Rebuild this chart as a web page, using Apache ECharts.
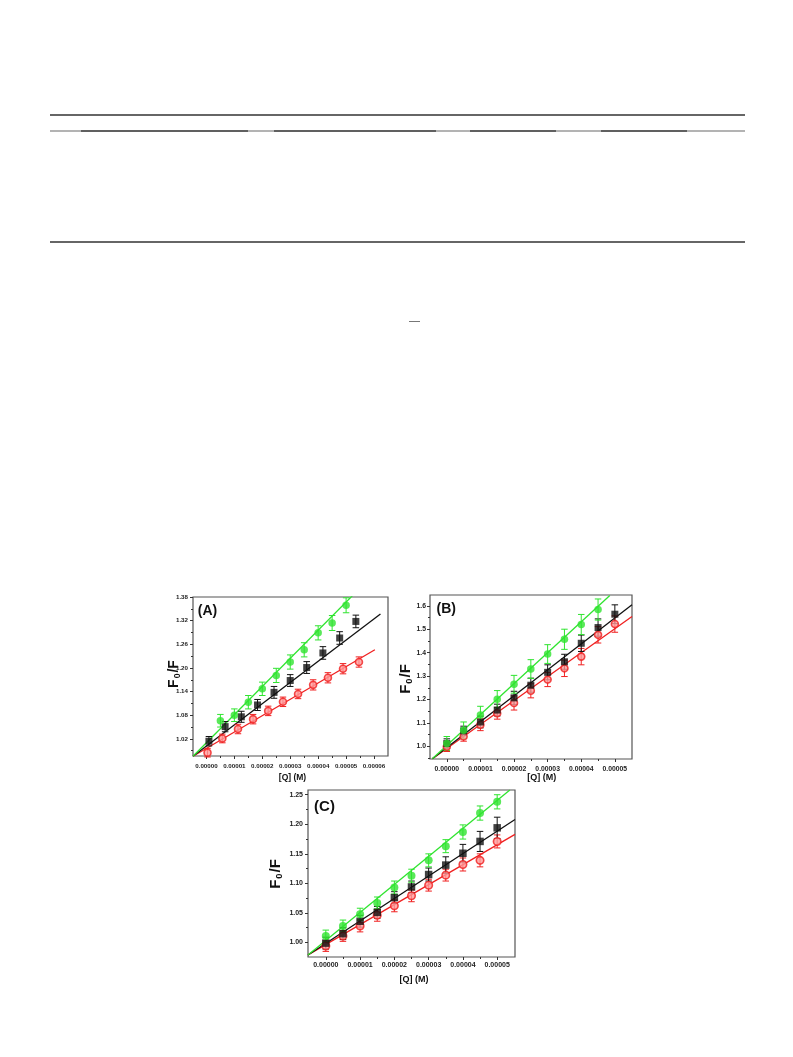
<!DOCTYPE html>
<html><head><meta charset="utf-8">
<script src="https://cdn.jsdelivr.net/npm/echarts@6/dist/echarts.min.js"></script>
<style>html,body{margin:0;padding:0;background:#fff}#c{width:793px;height:1057px}</style>
</head><body><div id="c"></div><script>
// ---- Data (x in units of 1e-5 M) ----
// Panel A
const A_green_x = [0.5, 1.0, 1.5, 2.0, 2.5, 3.0, 3.5, 4.0, 4.5, 5.0];
const A_green_y = [1.066, 1.080, 1.113, 1.147, 1.181, 1.215, 1.246, 1.289, 1.314, 1.359];
const A_green_e = [0.016, 0.016, 0.017, 0.017, 0.018, 0.018, 0.018, 0.018, 0.019, 0.019];
const A_black_x = [0.09, 0.67, 1.25, 1.83, 2.42, 3.0, 3.59, 4.17, 4.77, 5.35];
const A_black_y = [1.014, 1.051, 1.076, 1.106, 1.138, 1.168, 1.201, 1.238, 1.276, 1.318];
const A_black_e = [0.012, 0.013, 0.014, 0.014, 0.015, 0.015, 0.015, 0.016, 0.016, 0.016];
const A_red_x = [0.04, 0.57, 1.13, 1.67, 2.21, 2.74, 3.28, 3.82, 4.35, 4.89, 5.46];
const A_red_y = [0.985, 1.021, 1.045, 1.070, 1.091, 1.114, 1.134, 1.157, 1.175, 1.198, 1.215];
const A_red_e = [0.011, 0.011, 0.012, 0.012, 0.012, 0.012, 0.012, 0.013, 0.013, 0.013, 0.013];
const A_fit_green = [[-0.48, 0.976], [5.6, 1.410]];
const A_fit_black = [[-0.48, 0.976], [6.23, 1.337]];
const A_fit_red = [[-0.48, 0.976], [6.03, 1.246]];
const A_xTicks = [0, 1, 2, 3, 4, 5, 6];
const A_xMinor = [0.5, 1.5, 2.5, 3.5, 4.5, 5.5];
const A_yTicks = [1.02, 1.08, 1.14, 1.20, 1.26, 1.32, 1.38];
const A_yMinor = [0.99, 1.05, 1.11, 1.17, 1.23, 1.29, 1.35];

// Panel B
const B_green_x = [0, 0.5, 1.0, 1.5, 2.0, 2.5, 3.0, 3.5, 4.0, 4.5];
const B_green_y = [1.012, 1.069, 1.134, 1.201, 1.265, 1.330, 1.394, 1.457, 1.520, 1.584];
const B_green_e = [0.030, 0.035, 0.037, 0.037, 0.038, 0.040, 0.040, 0.043, 0.043, 0.045];
const B_black_x = [0, 0.5, 1.0, 1.5, 2.0, 2.5, 3.0, 3.5, 4.0, 4.5, 5.0];
const B_black_y = [1.012, 1.066, 1.104, 1.155, 1.207, 1.261, 1.316, 1.361, 1.440, 1.507, 1.564];
const B_black_e = [0.020, 0.020, 0.025, 0.025, 0.028, 0.030, 0.032, 0.032, 0.035, 0.037, 0.040];
const B_red_x = [0, 0.5, 1.0, 1.5, 2.0, 2.5, 3.0, 3.5, 4.0, 4.5, 5.0];
const B_red_y = [0.998, 1.042, 1.092, 1.141, 1.185, 1.237, 1.285, 1.333, 1.383, 1.476, 1.522];
const B_red_e = [0.020, 0.020, 0.025, 0.025, 0.030, 0.030, 0.030, 0.035, 0.035, 0.035, 0.035];
const B_fit_green = [[-0.43, 0.947], [4.85, 1.644]];
const B_fit_black = [[-0.43, 0.947], [5.51, 1.604]];
const B_fit_red = [[-0.43, 0.947], [5.51, 1.554]];
const B_xTicks = [0, 1, 2, 3, 4, 5];
const B_xMinor = [0.5, 1.5, 2.5, 3.5, 4.5];
const B_yTicks = [1.0, 1.1, 1.2, 1.3, 1.4, 1.5, 1.6];
const B_yMinor = [0.95, 1.05, 1.15, 1.25, 1.35, 1.45, 1.55];

// Panel C
const C_green_x = [0, 0.5, 1.0, 1.5, 2.0, 2.5, 3.0, 3.5, 4.0, 4.5, 5.0];
const C_green_y = [1.011, 1.028, 1.048, 1.067, 1.093, 1.113, 1.139, 1.163, 1.187, 1.219, 1.238];
const C_green_e = [0.010, 0.010, 0.010, 0.010, 0.011, 0.011, 0.011, 0.011, 0.012, 0.012, 0.012];
const C_black_x = [0, 0.5, 1.0, 1.5, 2.0, 2.5, 3.0, 3.5, 4.0, 4.5, 5.0];
const C_black_y = [0.999, 1.015, 1.036, 1.051, 1.076, 1.094, 1.115, 1.131, 1.151, 1.171, 1.194];
const C_black_e = [0.010, 0.010, 0.010, 0.010, 0.010, 0.010, 0.011, 0.014, 0.015, 0.017, 0.018];
const C_red_x = [0, 0.5, 1.0, 1.5, 2.0, 2.5, 3.0, 3.5, 4.0, 4.5, 5.0];
const C_red_y = [0.994, 1.011, 1.028, 1.046, 1.062, 1.079, 1.097, 1.114, 1.132, 1.139, 1.171];
const C_red_e = [0.009, 0.009, 0.010, 0.010, 0.010, 0.010, 0.010, 0.010, 0.011, 0.011, 0.011];
const C_fit_green = [[-0.52, 0.979], [5.37, 1.258]];
const C_fit_black = [[-0.52, 0.979], [5.52, 1.208]];
const C_fit_red = [[-0.52, 0.979], [5.52, 1.183]];
const C_xTicks = [0, 1, 2, 3, 4, 5];
const C_xMinor = [0.5, 1.5, 2.5, 3.5, 4.5];
const C_yTicks = [1.00, 1.05, 1.10, 1.15, 1.20, 1.25];
const C_yMinor = [1.025, 1.075, 1.125, 1.175, 1.225];

// ---- Styling / layout ----
const GREEN = '#2fe42f', BLACK = '#111111', RED = '#f02020';
const zip = (xs, ys, es) => xs.map((x, i) => es ? [x, ys[i], es[i]] : [x, ys[i]]);

const panels = [
  { grid: {left: 193, top: 597, width: 195, height: 159}, xMin: -0.48, xMax: 6.50, yMin: 0.9765, yMax: 1.38,
    xT: A_xTicks, xM: A_xMinor, yT: A_yTicks, yM: A_yMinor, yDec: 2, fs: 6.2, xMargin: 7, yMargin: 5, sym: 7.5,
    g: [A_green_x, A_green_y, A_green_e, A_fit_green], k: [A_black_x, A_black_y, A_black_e, A_fit_black], r: [A_red_x, A_red_y, A_red_e, A_fit_red] },
  { grid: {left: 430, top: 595, width: 202, height: 164}, xMin: -0.50, xMax: 5.51, yMin: 0.946, yMax: 1.646,
    xT: B_xTicks, xM: B_xMinor, yT: B_yTicks, yM: B_yMinor, yDec: 1, fs: 6.8, xMargin: 6.5, yMargin: 4, sym: 7.5,
    g: [B_green_x, B_green_y, B_green_e, B_fit_green], k: [B_black_x, B_black_y, B_black_e, B_fit_black], r: [B_red_x, B_red_y, B_red_e, B_fit_red] },
  { grid: {left: 308, top: 790, width: 207, height: 167}, xMin: -0.52, xMax: 5.52, yMin: 0.9755, yMax: 1.258,
    xT: C_xTicks, xM: C_xMinor, yT: C_yTicks, yM: C_yMinor, yDec: 2, fs: 7, xMargin: 5, yMargin: 5, sym: 8,
    g: [C_green_x, C_green_y, C_green_e, C_fit_green], k: [C_black_x, C_black_y, C_black_e, C_fit_black], r: [C_red_x, C_red_y, C_red_e, C_fit_red] }
];

function errRender(color, cap) {
  return function (params, api) {
    const x = api.value(0), y = api.value(1), e = api.value(2);
    const t = api.coord([x, y + e]), b = api.coord([x, y - e]);
    const h = cap / 2, st = {stroke: color, lineWidth: 1};
    return {type: 'group', children: [
      {type: 'line', shape: {x1: t[0], y1: t[1], x2: b[0], y2: b[1]}, style: st},
      {type: 'line', shape: {x1: t[0] - h, y1: t[1], x2: t[0] + h, y2: t[1]}, style: st},
      {type: 'line', shape: {x1: b[0] - h, y1: b[1], x2: b[0] + h, y2: b[1]}, style: st}
    ]};
  };
}

const grids = [], xAxes = [], yAxes = [], series = [];
panels.forEach((p, i) => {
  grids.push(Object.assign({show: true, borderColor: '#555', borderWidth: 1.2, backgroundColor: 'transparent'}, p.grid));
  const lbl = {fontSize: p.fs, fontWeight: 'bold', color: '#222', fontFamily: 'Liberation Sans, Arial, sans-serif'};
  const noLine = {show: false, onZero: false};
  xAxes.push({gridIndex: i, type: 'value', position: 'bottom', min: p.xMin, max: p.xMax,
    axisLine: noLine, splitLine: {show: false},
    axisTick: {show: true, length: 3, lineStyle: {color: '#333', width: 1}, customValues: p.xT},
    axisLabel: Object.assign({margin: p.xMargin, customValues: p.xT, formatter: v => (v * 1e-5).toFixed(5)}, lbl)});
  xAxes.push({gridIndex: i, type: 'value', position: 'bottom', min: p.xMin, max: p.xMax,
    axisLine: noLine, splitLine: {show: false}, axisLabel: {show: false},
    axisTick: {show: true, length: 2, lineStyle: {color: '#333', width: 1}, customValues: p.xM}});
  yAxes.push({gridIndex: i, type: 'value', position: 'left', min: p.yMin, max: p.yMax,
    axisLine: noLine, splitLine: {show: false},
    axisTick: {show: true, length: 3, lineStyle: {color: '#333', width: 1}, customValues: p.yT},
    axisLabel: Object.assign({margin: p.yMargin, customValues: p.yT, formatter: v => v.toFixed(p.yDec)}, lbl)});
  yAxes.push({gridIndex: i, type: 'value', position: 'left', min: p.yMin, max: p.yMax,
    axisLine: noLine, splitLine: {show: false}, axisLabel: {show: false},
    axisTick: {show: true, length: 2, lineStyle: {color: '#333', width: 1}, customValues: p.yM}});
  const xi = 2 * i, yi = 2 * i;
  const sets = [
    {d: p.r, color: RED, symbol: 'circle', item: {color: '#ff9a9a', borderColor: RED, borderWidth: 1.6}, size: p.sym - 0.5},
    {d: p.k, color: BLACK, symbol: 'rect', item: {color: BLACK}, size: p.sym - 0.5},
    {d: p.g, color: GREEN, symbol: 'circle', item: {color: GREEN}, size: p.sym}
  ];
  sets.forEach((s, j) => {
    series.push({type: 'line', xAxisIndex: xi, yAxisIndex: yi, data: s.d[3], showSymbol: false, symbol: 'none',
      lineStyle: {color: s.color, width: 1.3}, clip: true, z: 2, silent: true, animation: false});
    series.push({type: 'custom', xAxisIndex: xi, yAxisIndex: yi, data: zip(s.d[0], s.d[1], s.d[2]),
      encode: {x: 0, y: 1}, renderItem: errRender(s.color, 6.5), z: 3 + j, animation: false, silent: true});
    series.push({type: 'scatter', xAxisIndex: xi, yAxisIndex: yi, data: zip(s.d[0], s.d[1]),
      symbol: s.symbol, symbolSize: s.size, itemStyle: s.item, z: 6 + j, animation: false, silent: true});
  });
});

const richF = (fs) => ({
  a: {fontSize: fs, fontWeight: 'bold', fill: '#111', fontFamily: 'Liberation Sans, Arial, sans-serif'},
  b: {fontSize: fs * 0.62, fontWeight: 'bold', fill: '#111', fontFamily: 'Liberation Sans, Arial, sans-serif', padding: [fs * 0.5, 1, 0, 1]}
});
const fText = (x, y, fs) => ({type: 'text', x: x, y: y, rotation: Math.PI / 2,
  style: {text: '{a|F}{b|0}{a|/F}', rich: richF(fs), align: 'center', verticalAlign: 'middle'}});
const tText = (x, y, txt, fs, weight) => ({type: 'text', x: x, y: y,
  style: {text: txt, fontSize: fs, fontWeight: weight || 'bold', fill: '#111', fontFamily: 'Liberation Sans, Arial, sans-serif', align: 'center', verticalAlign: 'middle'}});
const hLine = (x1, x2, y, color, w) => ({type: 'line', shape: {x1: x1, y1: y, x2: x2, y2: y}, style: {stroke: color, lineWidth: w}});

const graphics = [
  hLine(50, 745, 115, '#333', 1.3),
  hLine(50, 745, 131, '#9a9a9a', 1.3),
  hLine(81, 248, 131, '#444', 1.3), hLine(274, 436, 131, '#444', 1.3),
  hLine(470, 556, 131, '#444', 1.3), hLine(601, 687, 131, '#444', 1.3),
  hLine(50, 745, 242, '#333', 1.3),
  hLine(409, 420, 321.5, '#777', 1),
  fText(174, 674, 14), fText(406, 679, 15), fText(276, 874, 15),
  tText(292.5, 778, '[Q] (M)', 8.5), tText(541.7, 777.5, '[Q] (M)', 9), tText(414, 980, '[Q] (M)', 9),
  tText(207.5, 611, '(A)', 14), tText(446.3, 609, '(B)', 14), tText(324.5, 807, '(C)', 15)
];

const chart = echarts.init(document.getElementById('c'), null, {renderer: 'canvas'});
chart.setOption({
  backgroundColor: '#ffffff',
  animation: false,
  grid: grids, xAxis: xAxes, yAxis: yAxes, series: series,
  graphic: graphics
});
</script></body></html>
